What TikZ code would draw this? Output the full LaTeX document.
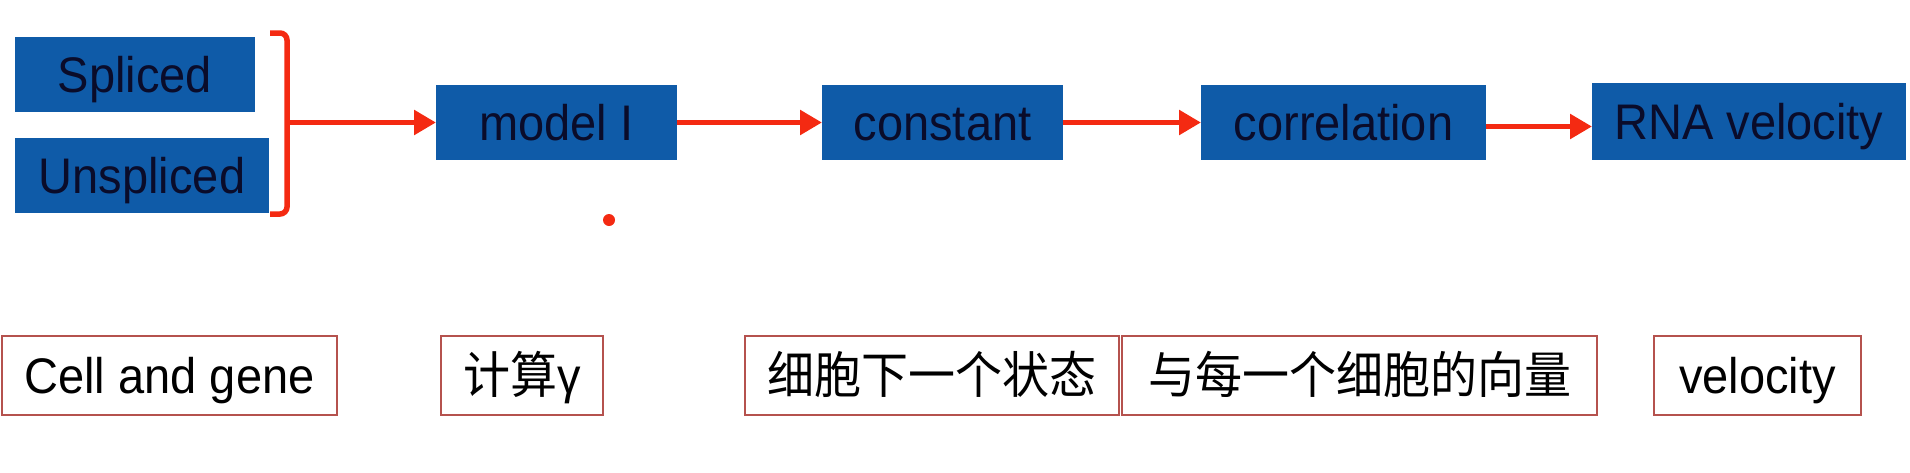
\documentclass[tikz,border=0pt]{standalone}
\usepackage{fontspec}
\setmainfont{Liberation Sans}[FakeStretch=0.94]
\newfontfamily\cjk{Noto Sans CJK SC}[FakeStretch=0.94]
\usetikzlibrary{arrows.meta,calc}
\definecolor{boxblue}{HTML}{0F5BA8}
\definecolor{txtdark}{HTML}{0A0C2A}
\definecolor{arrred}{HTML}{F42A12}
\definecolor{framered}{HTML}{B5524E}
\begin{document}
\begin{tikzpicture}[x=1pt,y=-1pt,
  bluebox/.style={fill=boxblue, draw=none, inner sep=0pt, outer sep=0pt, text=txtdark,
    font=\fontsize{50}{60}\selectfont, minimum height=75pt, text height=36pt, text depth=0pt},
  labelbox/.style={fill=white, draw=framered, line width=2pt, inner sep=0pt, outer sep=0pt, text=black,
    font=\fontsize{50}{60}\selectfont, minimum height=79pt, text height=36pt, text depth=0pt},
  redline/.style={draw=arrred, line width=5.5pt},
  redarrow/.style={redline, -{Triangle[length=22pt,width=24pt]}}]
\useasboundingbox (0,0) rectangle (1910,472);
% top row
\node[bluebox, minimum width=240pt] (spl) at (135,74.5) {Spliced};
\node[bluebox, minimum width=254pt] (unspl) at (142,175.5) {Unspliced};
\node[bluebox, minimum width=241pt] (model) at (556.5,122.5) {model I};
\node[bluebox, minimum width=241pt] (const) at (942.5,122.5) {constant};
\node[bluebox, minimum width=285pt] (corr) at (1343.5,122.5) {correlation};
\node[bluebox, minimum width=314pt, minimum height=77pt] (rna) at (1749,121.5) {RNA velocity};
% bracket
\coordinate (bt) at (270,33);
\coordinate (bb) at (270,214);
\coordinate (bm) at (287,122.5);
\draw[redline, rounded corners=7pt] (bt) -- (287,33) -- (287,214) -- (bb);
\draw[redarrow] (bm) -- (model.west);
\draw[redarrow] (model.east) -- (const.west);
\draw[redarrow] (const.east) -- (corr.west);
\draw[redarrow] ($(corr.east)+(0,4)$) -- ($(rna.west)+(0,5)$);
% dot
\fill[arrred] (609,220) circle (6pt);
% bottom row
\node[labelbox, minimum width=335pt] (cg) at (169.5,375.5) {Cell and gene};
\node[labelbox, minimum width=162pt] (gam) at (522,375.5) {{\cjk 计算}γ};
\node[labelbox, minimum width=374pt] (next) at (932,375.5) {\cjk 细胞下一个状态};
\node[labelbox, minimum width=475pt] (vec) at (1359.5,375.5) {\cjk 与每一个细胞的向量};
\node[labelbox, minimum width=207pt] (vel) at (1757.5,375.5) {velocity};
\end{tikzpicture}
\end{document}
